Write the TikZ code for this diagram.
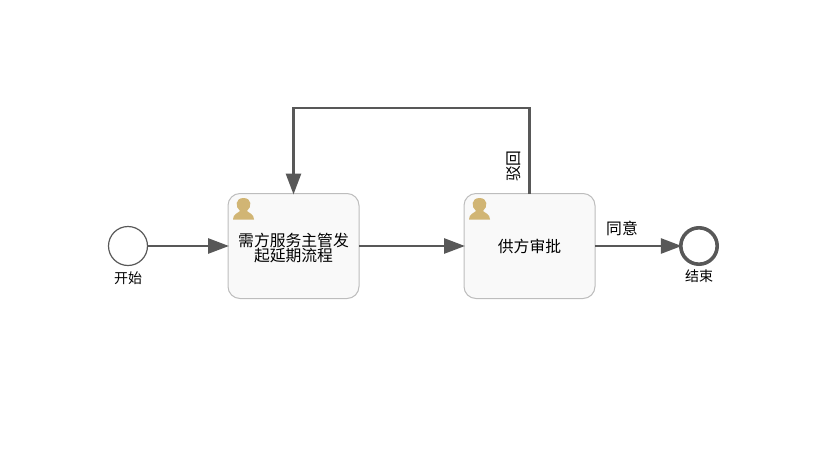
\documentclass[tikz,border=0pt]{standalone}
\usepackage{fontspec}
\setmainfont{Noto Sans CJK SC}
\usepackage{tikz}
\usetikzlibrary{arrows.meta, positioning}
\definecolor{flowgray}{HTML}{585858}
\definecolor{taskline}{HTML}{BDBDBD}
\definecolor{taskfill}{HTML}{F9F9F9}
\definecolor{usercolor}{HTML}{D1B574}
\tikzstyle{task} = [
  rectangle, rounded corners = 12, outer sep = 0,
  minimum width = 131, minimum height = 105,
  draw = taskline, fill = taskfill, line width = 1,
  align = center, font = \fontsize{15.8}{14}\selectfont
]
\tikzstyle{startevent} = [circle, minimum size = 39, inner sep = 0, outer sep = 0, draw = flowgray, line width = 1.2]
\tikzstyle{endevent} = [circle, minimum size = 36.4, inner sep = 0, outer sep = 0, draw = flowgray, line width = 3.6]
\tikzstyle{flow} = [draw = flowgray, line width = 2.8, shorten > = -1, -{Triangle[length = 21, width = 15]}]
\tikzstyle{flowlabel} = [font = \fontsize{15.8}{16}\selectfont, inner sep = 0]
\tikzstyle{eventlabel} = [font = \fontsize{14}{14}\selectfont, inner sep = 0]
\tikzstyle{user} = [fill = usercolor, draw = none]

\begin{document}
\begin{tikzpicture}[x = 1pt, y = -1pt]
  \useasboundingbox (0, 0) rectangle (836, 448);
  \node [startevent] (start) at (128, 246) {};
  \node [task] (apply) at (293.5, 246) {\rule{0pt}{17pt}需方服务主管发\\起延期流程};
  \node [task] (audit) at (529.5, 246) {供方审批};
  \node [endevent] (end) at (699, 246) {};

  \node [eventlabel] (start-label) at (128, 278) {开始};
  \node [eventlabel] (end-label) at (699, 276) {结束};
  \node [flowlabel] (agree-label) at (622, 228) {同意};
  \node [flowlabel, rotate = 90] (reject-label) at (514, 166) {驳回};

  \coordinate (corner-a) at (529.5, 108);
  \coordinate (corner-b) at (293.5, 108);

  \draw [flow] (start) -- (apply);
  \draw [flow] (apply) -- (audit);
  \draw [flow] (audit) -- (end);
  \draw [flow] (audit.north) -- (corner-a) -- (corner-b) -- (apply.north);

  % user icons
  \fill [user] (233, 219.5) .. controls (233, 214) and (238, 213) .. (240, 211)
    .. controls (235, 207) and (235, 198) .. (243.5, 198)
    .. controls (252, 198) and (252, 207) .. (247, 211)
    .. controls (249, 213) and (254, 214) .. (254, 219.5) -- cycle;
  \fill [user] (469, 219.5) .. controls (469, 214) and (474, 213) .. (476, 211)
    .. controls (471, 207) and (471, 198) .. (479.5, 198)
    .. controls (488, 198) and (488, 207) .. (483, 211)
    .. controls (485, 213) and (490, 214) .. (490, 219.5) -- cycle;
\end{tikzpicture}
\end{document}
